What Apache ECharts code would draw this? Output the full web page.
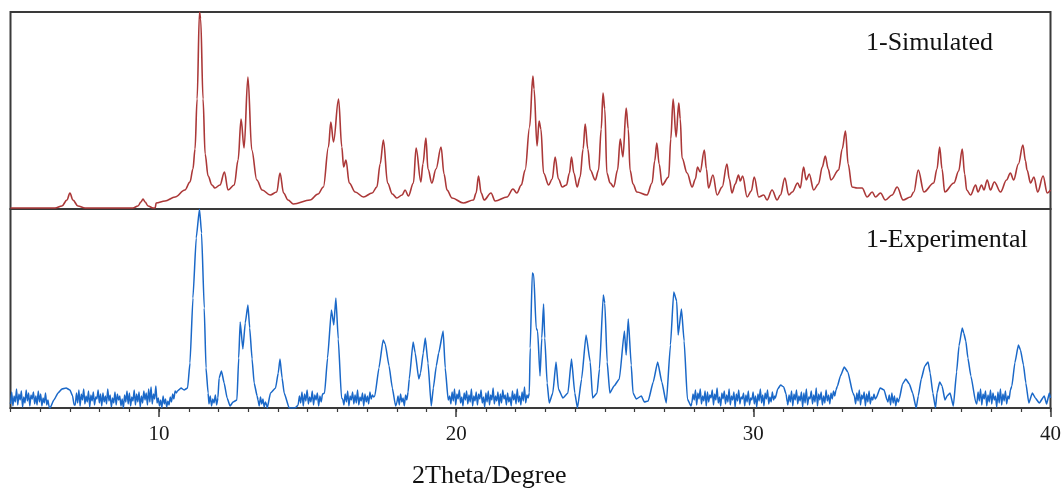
<!DOCTYPE html>
<html>
<head>
<meta charset="utf-8">
<script src="https://cdn.jsdelivr.net/npm/echarts@6/dist/echarts.min.js"></script>
<style>
html,body{margin:0;padding:0;background:#fff;}
#chart{width:1064px;height:491px;}
</style>
</head>
<body>
<div id="chart"></div>
<script>
// ---------- DATA ----------
const xTicks = [10, 20, 30, 40];
const xRange = [5, 40];
const panelLabels = ['1-Simulated', '1-Experimental'];
const xTitle = '2Theta/Degree';

// Simulated pattern: [2theta, intensity]
const simulated = [
 [5.00,1],[6.50,1],[6.73,3],[6.90,9],[7.00,16],[7.10,9],[7.27,3],[7.51,1],
 [9.12,1],[9.29,3],[9.39,7],[9.46,10],[9.53,7],[9.63,3],[9.80,1],[9.87,1],[9.90,6],
 [10.20,8],[10.54,12],[10.87,19],[11.04,27],[11.14,40],[11.21,60],[11.28,110],[11.36,197],[11.40,190],
 [11.48,110],[11.55,55],[11.65,33],[11.78,24],[11.88,21],[12.05,24],[12.20,37],[12.32,19],
 [12.53,24],[12.66,49],[12.76,90],[12.86,61],[12.99,132],[13.12,59],[13.29,29],[13.47,19],
 [13.74,14],[13.96,17],[14.07,36],[14.19,16],[14.34,9],[14.52,5],[15.08,9],[15.35,15],
 [15.53,22],[15.70,62],[15.78,87],[15.87,67],[16.04,110],[16.15,62],[16.21,42],[16.29,49],
 [16.40,26],[16.60,17],[16.88,12],[17.17,16],[17.33,22],[17.44,45],[17.55,69],[17.69,26],
 [17.85,15],[18.00,11],[18.18,14],[18.28,19],[18.39,13],[18.56,26],[18.65,61],[18.81,27],
 [18.88,45],[18.98,71],[19.05,40],[19.18,26],[19.32,40],[19.49,62],[19.59,35],[19.69,19],
 [19.86,11],[20.24,6],[20.58,9],[20.67,16],[20.75,33],[20.84,16],[20.94,9],[21.17,16],
 [21.31,8],[21.71,12],[21.91,20],[22.04,16],[22.19,24],[22.32,39],[22.47,82],[22.58,133],
 [22.62,120],[22.72,63],[22.79,88],[22.85,80],[22.94,36],[23.11,24],[23.23,30],[23.33,52],
 [23.44,30],[23.57,22],[23.71,24],[23.81,36],[23.88,52],[23.96,36],[24.07,22],[24.17,32],
 [24.27,60],[24.34,85],[24.43,60],[24.51,39],[24.68,29],[24.79,39],[24.88,80],[24.94,116],
 [25.00,100],[25.07,36],[25.18,26],[25.30,22],[25.43,39],[25.52,70],[25.61,52],[25.72,101],
 [25.79,80],[25.85,39],[25.95,25],[26.08,17],[26.42,14],[26.59,26],[26.68,48],[26.75,66],
 [26.83,45],[26.93,24],[27.15,32],[27.22,70],[27.30,110],[27.40,72],[27.49,106],[27.54,90],
 [27.60,51],[27.77,36],[27.94,22],[28.05,30],[28.12,42],[28.21,37],[28.35,59],[28.42,40],
 [28.49,21],[28.64,34],[28.78,14],[28.95,22],[29.11,45],[29.19,30],[29.28,16],[29.39,25],
 [29.50,34],[29.56,28],[29.64,33],[29.79,12],[29.93,18],[30.03,32],[30.18,12],[30.35,14],
 [30.46,9],[30.63,19],[30.80,9],[30.91,14],[31.06,31],[31.19,14],[31.31,17],[31.49,26],
 [31.58,21],[31.69,42],[31.78,29],[31.88,35],[32.03,19],[32.19,25],[32.32,42],[32.42,53],
 [32.52,40],[32.61,29],[32.87,39],[32.99,60],[33.10,78],[33.19,45],[33.32,22],[33.49,21],
 [33.66,21],[33.83,12],[34.00,17],[34.11,12],[34.28,16],[34.44,9],[34.67,14],[34.84,22],
 [35.04,9],[35.29,12],[35.40,17],[35.55,39],[35.74,17],[36.07,26],[36.18,40],[36.27,62],
 [36.35,40],[36.44,17],[36.75,26],[36.91,38],[37.03,60],[37.11,35],[37.18,19],[37.31,14],
 [37.48,24],[37.56,17],[37.68,24],[37.76,19],[37.87,29],[37.98,19],[38.11,27],[38.32,17],
 [38.52,29],[38.65,36],[38.76,29],[38.92,45],[39.07,64],[39.16,48],[39.21,39],[39.33,26],
 [39.44,32],[39.57,17],[39.75,33],[39.89,16],[40.00,19]
];

// Experimental pattern, peak regions: [2theta, intensity]
const experimentalPeaks = [
 [6.33,0],[6.46,8],[6.60,15],[6.73,19],[6.87,20],[7.00,18],[7.09,12],[7.14,3],
 [10.62,17],[10.74,20],[10.84,18],[10.96,20],[11.04,45],[11.14,110],[11.25,170],[11.36,199],
 [11.43,175],[11.52,100],[11.58,40],[11.65,15],
 [12.02,30],[12.10,37],[12.19,25],[12.29,10],[12.39,2],[12.49,6],[12.62,8],[12.68,50],[12.73,86],
 [12.82,59],[12.90,85],[12.99,103],[13.05,80],[13.13,49],[13.20,25],[13.30,12],
 [13.64,0],[13.75,15],[13.92,20],[14.01,35],[14.07,49],[14.14,30],[14.21,15],[14.38,0],[14.58,0],
 [15.57,15],[15.67,50],[15.80,98],[15.88,83],[15.95,110],[16.03,69],[16.14,10],
 [17.26,12],[17.40,40],[17.54,68],[17.61,64],[17.74,42],[17.85,20],[17.96,2],
 [18.42,29],[18.55,66],[18.62,55],[18.74,29],[18.80,35],[18.89,55],[18.96,70],[19.05,45],
 [19.16,2],[19.23,20],[19.33,42],[19.41,55],[19.56,77],[19.63,40],[19.73,8],
 [22.49,60],[22.56,135],[22.61,133],[22.69,80],[22.74,77],[22.82,32],[22.88,70],[22.94,104],
 [22.98,70],[23.06,25],[23.13,5],[23.25,15],[23.36,46],[23.44,19],[23.59,10],[23.76,15],
 [23.88,49],[23.99,15],[24.08,0],[24.22,29],[24.37,73],[24.51,46],[24.59,10],[24.74,15],
 [24.82,39],[24.95,113],[25.00,105],[25.08,46],[25.17,15],[25.31,22],[25.49,29],[25.66,77],
 [25.72,53],[25.79,89],[25.89,43],[25.95,15],[26.06,9],[26.23,12],[26.33,6],[26.46,7],
 [26.63,26],[26.78,46],[26.92,26],[27.07,5],[27.21,63],[27.32,116],[27.42,107],[27.47,73],
 [27.58,99],[27.67,67],[27.78,9],[27.90,2],
 [30.74,10],[30.82,19],[30.92,23],[31.02,21],[31.10,14],[31.14,6],
 [32.83,22],[32.93,32],[33.06,41],[33.18,36],[33.35,15],
 [34.13,10],[34.27,20],[34.40,18],[34.50,8],
 [34.91,9],[35.02,24],[35.13,29],[35.25,24],[35.36,15],[35.48,0],[35.55,12],[35.65,29],
 [35.77,42],[35.88,46],[35.95,35],[36.04,15],[36.13,0],[36.18,15],[36.27,26],[36.35,22],
 [36.45,8],[36.52,12],[36.62,15],[36.73,2],[36.84,36],[36.92,62],[37.03,80],[37.08,75],
 [37.15,67],[37.22,50],[37.32,32],[37.49,5],
 [38.70,22],[38.80,45],[38.92,63],[38.99,58],[39.09,43],[39.17,25],[39.27,5],[39.39,15],
 [39.49,10],[39.62,5],[39.79,12],[39.87,4],[39.96,15],[40.00,10]
];

// Experimental background noise: [from 2theta, to 2theta, intensities read left to right]
const experimentalNoise = [
 [5.00, 6.30, [4,16,2,12,6,19,3,14,8,17,1,11,5,18,7,15,2,13,9,16,4,12,3,17,6,14,2,10,5,15,3,8,1]],
 [7.18, 10.58, [3,15,5,18,2,14,8,19,4,12,6,17,1,13,7,16,3,11,9,18,5,14,2,15,6,12,4,19,7,13,1,10,5,16,3,14,8,12,2,9,0,13,6,17,4,15,2,11,7,18,3,14,6,16,1,12,5,17,8,15,3,19,6,21,4,14,9,22,5,10,2,8,0,12,4,9,1,7,3,11,6,14,9,17,15]],
 [11.68, 11.98, [4,12,2,9,5,13,3,10]],
 [13.33, 13.62, [8,2,11,4,9,1,6,3]],
 [14.68, 15.50, [3,12,5,16,2,14,7,18,4,11,6,17,3,13,8,15,2,12,6,14]],
 [16.18, 17.22, [9,3,14,6,17,2,12,8,16,4,13,5,18,3,11,7,15,2,14,6,12,4,16,9,13,11]],
 [18.00, 18.38, [5,12,3,14,6,10,2,13,8,16]],
 [19.78, 22.46, [12,4,16,7,19,3,14,9,18,5,11,2,15,8,17,4,13,6,19,2,12,7,16,3,14,9,18,5,11,1,15,6,17,3,13,8,20,4,12,7,16,2,14,5,18,9,13,3,15,6,11,2,17,8,14,4,19,6,12,3,16,7,21,5,13,10,15]],
 [27.93, 30.72, [5,14,8,18,3,15,9,19,4,12,7,17,2,16,6,13,10,18,3,14,8,20,5,11,2,15,9,17,4,13,6,19,3,12,8,16,1,14,7,18,4,11,9,15,2,13,6,17,3,10,8,16,4,12,1,14,7,19,5,13,2,15,9,18,4,11,6,16,8,12]],
 [31.16, 32.78, [3,13,6,17,2,14,8,18,4,12,7,16,1,15,5,19,3,11,9,17,4,13,6,20,2,14,8,16,3,12,5,18,7,13,4,15,9,17,12,18]],
 [33.40, 34.10, [12,4,15,7,18,3,13,9,16,2,14,6,17,4,11,8,14,9]],
 [34.53, 34.88, [6,13,3,15,5,12,2,10,6]],
 [37.52, 38.65, [4,16,7,19,3,14,9,17,2,13,6,18,4,15,8,12,1,16,5,19,3,14,7,17,4,12,9,18]]
];

// ---------- BUILD ----------
const experimental = experimentalPeaks.slice();
experimentalNoise.forEach(function (seg) {
  const a = seg[0], b = seg[1], vals = seg[2];
  const n = vals.length;
  vals.forEach(function (v, i) {
    experimental.push([a + (b - a) * i / (n - 1), v]);
  });
});
experimental.sort(function (p, q) { return p[0] - q[0]; });

const FRAME = '#3a3a3a';
const SERIF = '"Liberation Serif","Times New Roman",serif';

const chart = echarts.init(document.getElementById('chart'), null, {renderer: 'canvas'});
chart.setOption({
  animation: false,
  backgroundColor: '#ffffff',
  grid: [
    {left: 10.5, right: 13.5, top: 12, height: 197, show: true, borderColor: FRAME, borderWidth: 2, backgroundColor: 'transparent'},
    {left: 10.5, right: 13.5, top: 209, height: 199, show: true, borderColor: FRAME, borderWidth: 2, backgroundColor: 'transparent'}
  ],
  xAxis: [
    {gridIndex: 0, type: 'value', min: xRange[0], max: xRange[1], show: false},
    {gridIndex: 1, type: 'value', min: xRange[0], max: xRange[1], interval: 1, position: 'bottom',
     axisLine: {show: true, onZero: false, lineStyle: {color: FRAME, width: 2}},
     axisTick: {show: true, length: 4, lineStyle: {color: FRAME, width: 1.2}},
     axisLabel: {show: false}, splitLine: {show: false}},
    {gridIndex: 1, type: 'value', min: xRange[0], max: xRange[1], position: 'bottom',
     axisLine: {show: false, onZero: false},
     axisTick: {show: true, length: 9, customValues: xTicks, lineStyle: {color: FRAME, width: 1.5}},
     axisLabel: {show: true, customValues: xTicks, margin: 16, fontFamily: SERIF, fontSize: 21, color: '#1a1a1a'},
     splitLine: {show: false}}
  ],
  yAxis: [
    {gridIndex: 0, type: 'value', min: 0, max: 197, show: false},
    {gridIndex: 1, type: 'value', min: 0, max: 199, show: false}
  ],
  series: [
    {name: panelLabels[0], type: 'line', xAxisIndex: 0, yAxisIndex: 0, data: simulated,
     showSymbol: false, symbol: 'none', smooth: 0.35, smoothMonotone: 'x',
     lineStyle: {color: '#ab3838', width: 1.6}, z: 3},
    {name: panelLabels[1], type: 'line', xAxisIndex: 1, yAxisIndex: 1, data: experimental,
     showSymbol: false, symbol: 'none', smooth: 0.15, smoothMonotone: 'x',
     lineStyle: {color: '#1a68c8', width: 1.5}, z: 3}
  ],
  graphic: [
    {type: 'text', left: 866, top: 30, style: {text: panelLabels[0], font: '26px ' + SERIF, fill: '#111'}},
    {type: 'text', left: 866, top: 227, style: {text: panelLabels[1], font: '26px ' + SERIF, fill: '#111'}},
    {type: 'text', left: 412, top: 463, style: {text: xTitle, font: '26px ' + SERIF, fill: '#111'}}
  ]
});
</script>
</body>
</html>
